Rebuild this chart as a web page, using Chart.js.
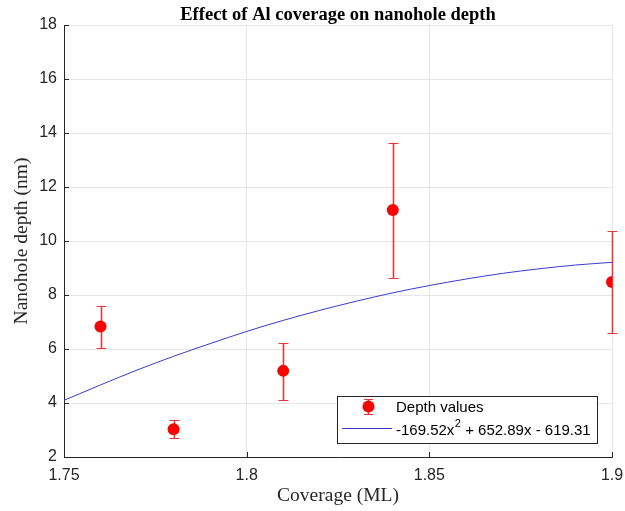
<!DOCTYPE html>
<html><head><meta charset="utf-8">
<script src="https://cdn.jsdelivr.net/npm/chart.js@4"></script>
<style>html,body{margin:0;padding:0;background:#fff}#wrap{width:625px;height:511px}</style>
</head><body><div id="wrap"><canvas id="c" width="625" height="511"></canvas></div>
<script>
// ---- data ----
const coverage  = [1.76, 1.78, 1.81, 1.84, 1.90];
const depth     = [6.83, 3.03, 5.19, 11.15, 8.48];
const depthLow  = [6.03, 2.70, 4.10, 8.63, 6.58];
const depthHigh = [7.60, 3.36, 6.23, 13.64, 10.37];
const fitX = [1.75, 1.76, 1.77, 1.78, 1.79, 1.80, 1.81, 1.82, 1.83, 1.84, 1.85, 1.86, 1.87, 1.88, 1.89, 1.90];
const fitY = [4.10, 4.67, 5.22, 5.73, 6.20, 6.65, 7.06, 7.43, 7.77, 8.08, 8.35, 8.59, 8.80, 8.97, 9.11, 9.21];
const xTicks = [1.75, 1.8, 1.85, 1.9];
const yTicks = [2, 4, 6, 8, 10, 12, 14, 16, 18];
const titleText = 'Effect of Al coverage on nanohole depth';
const xLabel = 'Coverage (ML)';
const yLabel = 'Nanohole depth (nm)';
const legendPoints = 'Depth values';
const legendFitParts = ['-169.52x', '2', ' + 652.89x - 619.31'];

const AXIS = '#262626', GRID = '#e6e6e6', RED = '#ff0000', ERR = '#e03a3a', BLUE = '#3a3acf';

const errorBars = {
  id: 'errorBars',
  beforeDatasetsDraw(chart) {
    const {ctx, scales: {x, y}} = chart;
    ctx.save();
    ctx.strokeStyle = ERR;
    coverage.forEach((cv, i) => {
      const px = Math.round(x.getPixelForValue(cv)) + 0.5;
      const yl = y.getPixelForValue(depthLow[i]);
      const yh = y.getPixelForValue(depthHigh[i]);
      ctx.lineWidth = 1.6;
      ctx.beginPath();
      ctx.moveTo(px, yl); ctx.lineTo(px, yh);
      ctx.stroke();
      ctx.lineWidth = 1.2;
      ctx.beginPath();
      ctx.moveTo(px - 5, Math.round(yl) + 0.5); ctx.lineTo(px + 5, Math.round(yl) + 0.5);
      ctx.moveTo(px - 5, Math.round(yh) + 0.5); ctx.lineTo(px + 5, Math.round(yh) + 0.5);
      ctx.stroke();
    });
    ctx.restore();
  }
};

const decorations = {
  id: 'decorations',
  afterDraw(chart) {
    const {ctx, chartArea: a, scales: {x, y}} = chart;
    ctx.save();
    // inward ticks
    ctx.strokeStyle = AXIS; ctx.lineWidth = 1;
    ctx.beginPath();
    yTicks.forEach(v => { const py = Math.round(y.getPixelForValue(v)) + 0.5; ctx.moveTo(a.left, py); ctx.lineTo(a.left + 5, py); });
    xTicks.forEach(v => { const px = Math.round(x.getPixelForValue(v)) + 0.5; ctx.moveTo(px, a.bottom); ctx.lineTo(px, a.bottom - 5); });
    ctx.stroke();
    // title
    const cx = (a.left + a.right) / 2;
    ctx.fillStyle = '#000';
    ctx.textAlign = 'center'; ctx.textBaseline = 'middle';
    ctx.font = 'bold 18.5px "Liberation Serif"';
    ctx.fillText(titleText, cx, 15);
    // axis labels
    ctx.fillStyle = AXIS;
    ctx.font = '19.5px "Liberation Serif"';
    ctx.fillText(xLabel, cx, 496);
    ctx.save();
    ctx.translate(22, (a.top + a.bottom) / 2);
    ctx.rotate(-Math.PI / 2);
    ctx.fillText(yLabel, 0, 0);
    ctx.restore();
    // legend
    const L = 337, T = 396, R = 598, B = 444;
    ctx.fillStyle = '#fff';
    ctx.fillRect(L, T, R - L, B - T);
    ctx.strokeStyle = AXIS; ctx.lineWidth = 1;
    ctx.strokeRect(L + 0.5, T + 0.5, R - L - 1, B - T - 1);
    // row 1
    ctx.strokeStyle = ERR; ctx.lineWidth = 1.6;
    ctx.beginPath();
    ctx.moveTo(368.5, 399); ctx.lineTo(368.5, 415);
    ctx.stroke();
    ctx.lineWidth = 1.2;
    ctx.beginPath();
    ctx.moveTo(364, 399.5); ctx.lineTo(373, 399.5);
    ctx.moveTo(364, 414.5); ctx.lineTo(373, 414.5);
    ctx.stroke();
    ctx.fillStyle = RED;
    ctx.beginPath(); ctx.arc(368.5, 406.5, 6, 0, Math.PI * 2); ctx.fill();
    ctx.fillStyle = '#000';
    ctx.textAlign = 'left';
    ctx.font = '15px "Liberation Sans"';
    ctx.fillText(legendPoints, 396, 408);
    // row 2
    ctx.strokeStyle = BLUE; ctx.lineWidth = 1;
    ctx.beginPath(); ctx.moveTo(342, 428.5); ctx.lineTo(392, 428.5); ctx.stroke();
    let tx = 396;
    ctx.fillText(legendFitParts[0], tx, 431);
    tx += ctx.measureText(legendFitParts[0]).width;
    ctx.font = '11px "Liberation Sans"';
    ctx.fillText(legendFitParts[1], tx + 0.5, 424);
    tx += ctx.measureText(legendFitParts[1]).width + 0.5;
    ctx.font = '15px "Liberation Sans"';
    ctx.fillText(legendFitParts[2], tx, 431);
    ctx.restore();
  }
};

new Chart(document.getElementById('c'), {
  type: 'scatter',
  data: {
    datasets: [
      {
        label: 'fit', type: 'line',
        data: fitX.map((v, i) => ({x: v, y: fitY[i]})),
        borderColor: BLUE, borderWidth: 1, pointRadius: 0, fill: false,
        cubicInterpolationMode: 'monotone', order: 1
      },
      {
        label: legendPoints,
        data: coverage.map((v, i) => ({x: v, y: depth[i]})),
        backgroundColor: RED, borderWidth: 0, pointRadius: 6, order: 0
      }
    ]
  },
  options: {
    responsive: false, animation: false, devicePixelRatio: 1,
    layout: {padding: {top: 25, right: 13, left: 0, bottom: 0}},
    plugins: {legend: {display: false}, title: {display: false}, tooltip: {enabled: false}},
    scales: {
      x: {
        type: 'linear', min: 1.75, max: 1.9,
        afterBuildTicks: s => { s.ticks = xTicks.map(v => ({value: v})); },
        afterFit: s => { s.height = 54; s.paddingLeft = 0; s.paddingRight = 0; },
        ticks: {font: {family: 'Liberation Sans', size: 16}, color: AXIS, padding: 9, maxRotation: 0, autoSkip: false, callback: v => String(v)},
        grid: {color: GRID, drawTicks: false},
        border: {color: AXIS, width: 1}
      },
      y: {
        type: 'linear', min: 2, max: 18,
        afterBuildTicks: s => { s.ticks = yTicks.map(v => ({value: v})); },
        afterFit: s => { s.width = 64; s.paddingTop = 0; s.paddingBottom = 0; },
        ticks: {font: {family: 'Liberation Sans', size: 16}, color: AXIS, padding: 7, callback: v => String(v)},
        grid: {color: GRID, drawTicks: false},
        border: {color: AXIS, width: 1}
      }
    }
  },
  plugins: [errorBars, decorations]
});
</script>
</body></html>
